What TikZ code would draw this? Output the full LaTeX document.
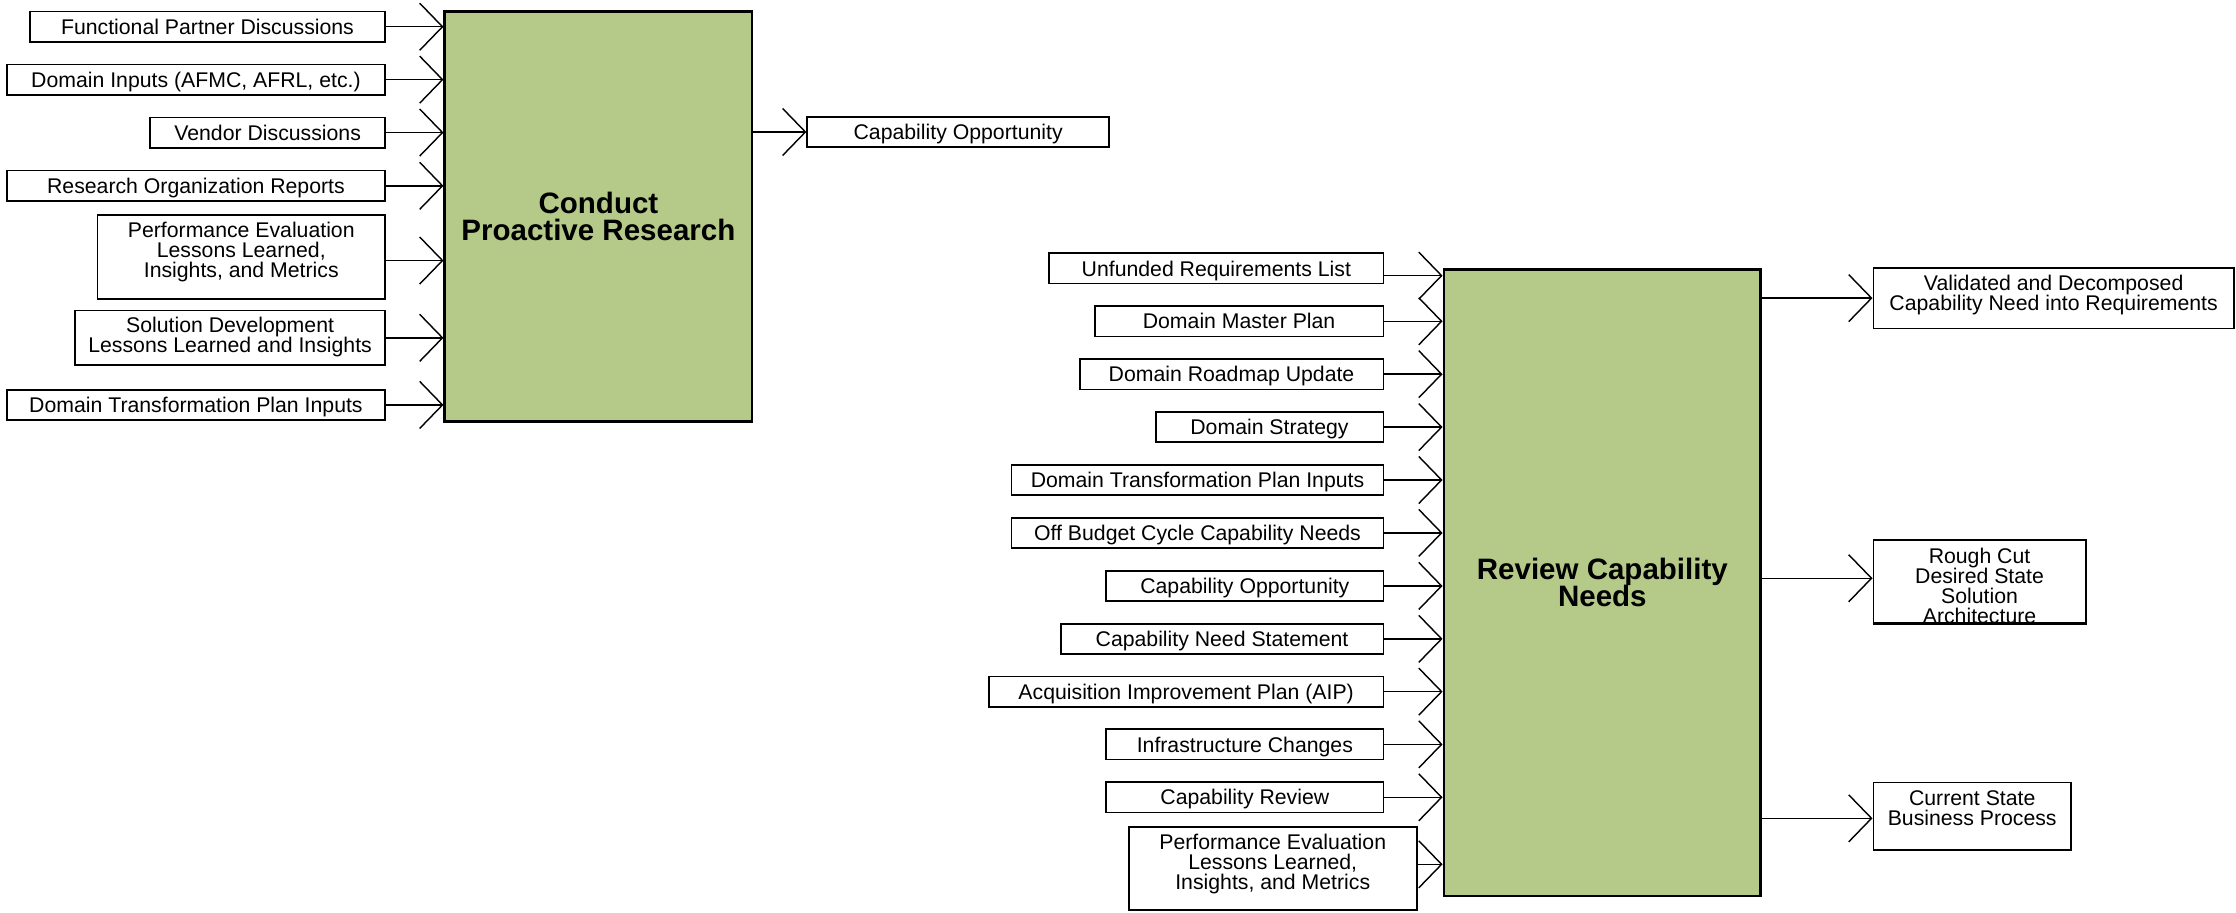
\documentclass[tikz,border=0pt]{standalone}
\usepackage{fontspec}
\setmainfont{Liberation Sans}
\usetikzlibrary{arrows.meta}
\definecolor{boxgreen}{RGB}{181,202,136}
\newcommand\smallf{\fontsize{14.9}{14}\selectfont\lineskiplimit=-100pt\relax}
\newcommand\ttlA{\fontsize{20.7}{18.4}\selectfont\bfseries\lineskiplimit=-100pt\relax}
\newcommand\ttlB{\fontsize{20.7}{19.2}\selectfont\bfseries\lineskiplimit=-100pt\relax}
\tikzset{
  bigbox/.style={draw=black, line width=2pt, fill=boxgreen, inner sep=0pt, align=center},
  ibox/.style={draw=black, line width=1.2pt, fill=white, inner sep=0pt, font=\smallf, minimum height=21.3pt},
  one/.style={text height=10.7pt, text depth=0pt},
  mtxt/.style={inner sep=0pt, align=center, font=\smallf},
  flow/.style={line width=1pt, -{Straight Barb[length=16pt,width=33pt]}},
}
\begin{document}
\begin{tikzpicture}[x=1pt,y=-1pt]
\useasboundingbox (0,0) rectangle (1568,640);

% ---------- Conduct Proactive Research ----------
\node[bigbox, minimum width=215.3pt, minimum height=287.3pt, font=\ttlA] (A) at (419.65,151.85) {Conduct\\Proactive Research};

\node[ibox,one,minimum width=249pt]   (fpd) at (145.5,18.75) {Functional Partner Discussions};
\node[ibox,one,minimum width=265.2pt] (dia) at (137.4,55.85) {Domain Inputs (AFMC, AFRL, etc.)};
\node[ibox,one,minimum width=164.6pt] (vd)  at (187.7,92.95) {Vendor Discussions};
\node[ibox,one,minimum width=265.2pt] (ror) at (137.4,130.3) {Research Organization Reports};
\node[ibox,minimum width=201.6pt,minimum height=58.6pt] (pel) at (169.2,180.3) {};
\node[mtxt] (pelt) at (169.2,176.9) {Performance Evaluation\\Lessons Learned,\\Insights, and Metrics};
\node[ibox,minimum width=217.3pt,minimum height=38.2pt] (sdl) at (161.35,236.9) {};
\node[mtxt] (sdlt) at (161.35,236.5) {Solution Development\\Lessons Learned and Insights};
\node[ibox,one,minimum width=265.2pt] (dtp) at (137.4,283.95) {Domain Transformation Plan Inputs};

\node[ibox,one,minimum width=211.6pt] (cop) at (671.9,92.55) {Capability Opportunity};

\coordinate (pelo) at ([yshift=-2.4pt]pel.east);
\foreach \n in {fpd,dia,vd,ror,pelo,sdl,dtp}{
  \draw[flow] (\n.east) -- (\n.east -| A.west);
}
\draw[flow] (A.east |- cop.west) -- (cop.west);

% ---------- Review Capability Needs ----------
\node[bigbox, minimum width=222.1pt, minimum height=439.4pt, font=\ttlB] (B) at (1123.65,408.6) {Review Capability\\Needs};

\node[ibox,one,minimum width=234.3pt] (r1)  at (852.95,188.2) {Unfunded Requirements List};
\node[ibox,one,minimum width=202.4pt] (r2)  at (868.9,225.3) {Domain Master Plan};
\node[ibox,one,minimum width=213pt]   (r3)  at (863.6,262.4) {Domain Roadmap Update};
\node[ibox,one,minimum width=159.7pt] (r4)  at (890.25,299.5) {Domain Strategy};
\node[ibox,one,minimum width=260.7pt] (r5)  at (839.75,336.6) {Domain Transformation Plan Inputs};
\node[ibox,one,minimum width=260.7pt] (r6)  at (839.75,373.7) {Off Budget Cycle Capability Needs};
\node[ibox,one,minimum width=194.3pt] (r7)  at (872.95,410.9) {Capability Opportunity};
\node[ibox,one,minimum width=226.3pt] (r8)  at (856.95,448.0) {Capability Need Statement};
\node[ibox,one,minimum width=276.6pt] (r9)  at (831.8,485.0) {Acquisition Improvement Plan (AIP)};
\node[ibox,one,minimum width=194.3pt] (r10) at (872.95,522.0) {Infrastructure Changes};
\node[ibox,one,minimum width=194.3pt] (r11) at (872.95,559.1) {Capability Review};
\node[ibox,minimum width=202pt,minimum height=58.5pt] (r12) at (892.5,608.95) {};
\node[mtxt] (r12t) at (892.5,605.7) {Performance Evaluation\\Lessons Learned,\\Insights, and Metrics};

\coordinate (r1o) at ([yshift=-5.1pt]r1.east);
\coordinate (r12o) at ([yshift=2.85pt]r12.east);
\foreach \n in {r1o,r2,r3,r4,r5,r6,r7,r8,r9,r10,r11,r12o}{
  \draw[flow] (\n.east) -- (\n.east -| B.west);
}

\node[ibox,minimum width=252.8pt,minimum height=42.7pt] (o1) at (1440.1,209.05) {};
\node[mtxt] (o1t) at (1440.1,206.9) {Validated and Decomposed\\Capability Need into Requirements};
\node[ibox,minimum width=148.9pt,minimum height=58pt] (o2) at (1388.15,407.9) {};
\node[mtxt] (o2t) at (1388.15,411.1) {Rough Cut\\Desired State\\Solution\\Architecture};
\draw[line width=1.2pt] (o2.south west) -- (o2.south east);
\node[ibox,minimum width=138.6pt,minimum height=47.3pt] (o3) at (1383,572.35) {};
\node[mtxt] (o3t) at (1383,567.0) {Current State\\Business Process};

\coordinate (o2i) at ([yshift=2.4pt]o2.west);
\coordinate (o3i) at ([yshift=-1.5pt]o3.west);
\draw[flow] (B.east |- o1.west) -- (o1.west);
\draw[flow] (B.east |- o2i) -- (o2i);
\draw[flow] (B.east |- o3i) -- (o3i);
\end{tikzpicture}
\end{document}
